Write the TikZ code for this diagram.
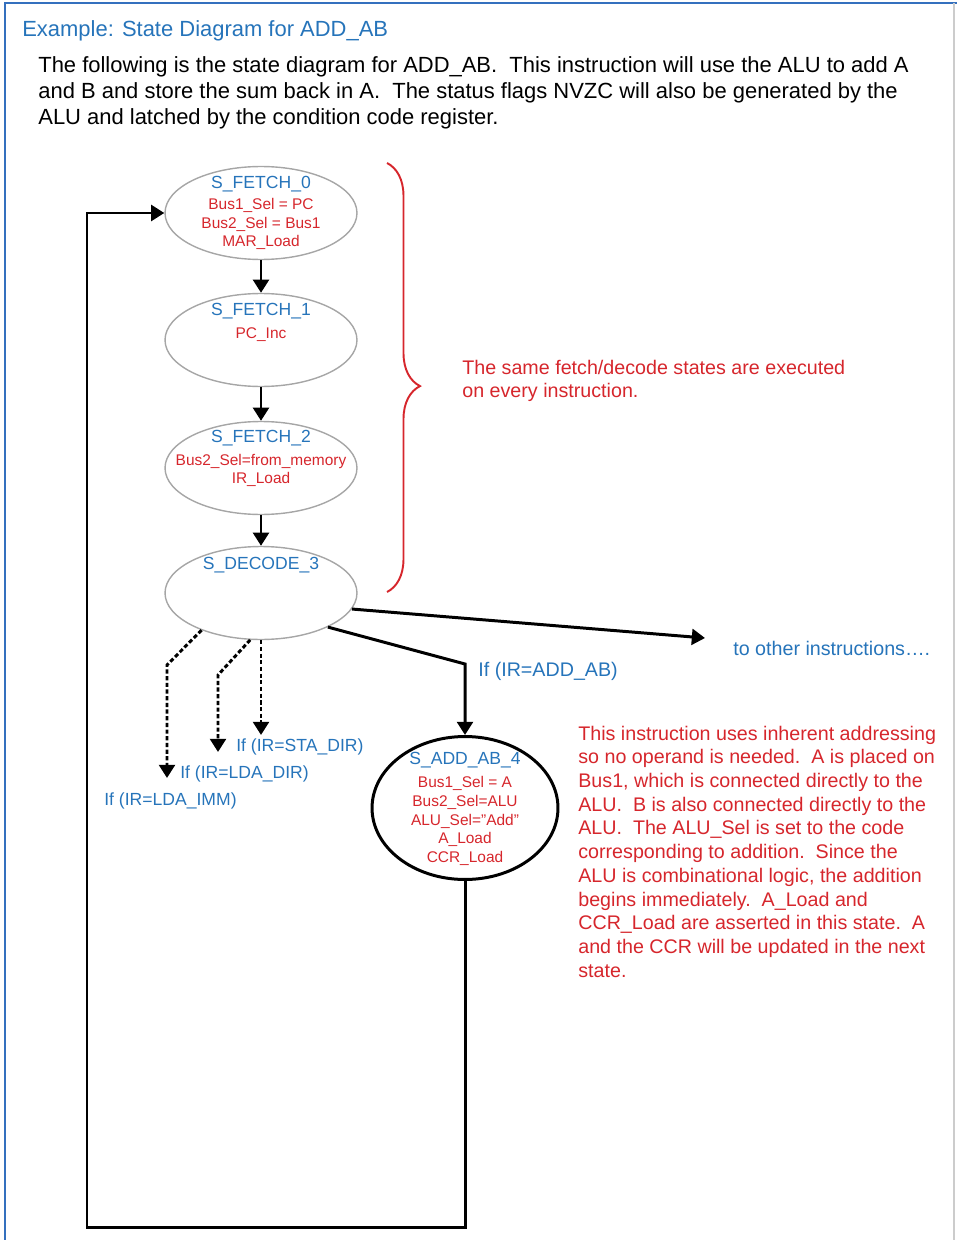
\documentclass[tikz,border=0pt]{standalone}
\usepackage{fontspec}
\setmainfont{Liberation Sans}
\usetikzlibrary{shapes.geometric,arrows.meta,decorations.pathreplacing}
\definecolor{titleblue}{RGB}{38,116,186}
\definecolor{frameblue}{RGB}{52,112,190}
\definecolor{notered}{RGB}{214,38,44}
\tikzset{
  state/.style={ellipse,draw=black!35,line width=0.8pt,minimum width=3.84cm,minimum height=1.86cm,inner sep=0pt},
  addstate/.style={ellipse,draw=black,line width=1.7pt,minimum width=3.72cm,minimum height=2.86cm,inner sep=0pt},
  stname/.style={titleblue,inner sep=0pt,font=\fontsize{10}{12}\selectfont},
  stsig/.style={notered,inner sep=0pt,align=center,font=\fontsize{8.8}{10.6}\selectfont},
  lbl/.style={titleblue,inner sep=0pt,font=\fontsize{11.2}{13.5}\selectfont},
  smlbl/.style={titleblue,inner sep=0pt,font=\fontsize{10}{12}\selectfont},
  notetext/.style={notered,inner sep=0pt,align=left,font=\fontsize{11.2}{13.5}\selectfont},
  arr/.style={line width=1.7pt,-{Triangle[length=7.5pt,width=9pt]}},
  dotarr/.style={arr,dash pattern=on 2.4pt off 1.4pt}
}
\begin{document}
\begin{tikzpicture}[x=0.02cm,y=-0.02cm]
\useasboundingbox (0,0) rectangle (957,1240);
% frame
\draw[frameblue,line width=1.5pt] (5,1240) -- (5,3) -- (957,3);
\draw[black!20,line width=0.6pt] (954,3) -- (954,1240);
% heading
\node[titleblue,inner sep=0pt,anchor=base west,font=\fontsize{12.5}{15}\selectfont] (title) at (22,37) {Example: State Diagram for ADD\_AB};
\node[inner sep=0pt,anchor=north west,align=left,font=\fontsize{12.5}{14.74}\selectfont] (intro) at (38,56.5) {The following is the state diagram for ADD\_AB.\ \ This instruction will use the ALU to add A\\and B and store the sum back in A.\ \ The status flags NVZC will also be generated by the\\ALU and latched by the condition code register.};
% fetch / decode states
\node[state] (f0) at (261,213) {};
\node[stname] (f0name) at (261,184) {S\_FETCH\_0};
\node[stsig] (f0sig) at (261,224) {Bus1\_Sel = PC\\Bus2\_Sel = Bus1\\MAR\_Load};
\node[state] (f1) at (261,340) {};
\node[stname] (f1name) at (261,311) {S\_FETCH\_1};
\node[stsig] (f1sig) at (261,335) {PC\_Inc};
\node[state] (f2) at (261,468) {};
\node[stname] (f2name) at (261,438) {S\_FETCH\_2};
\node[stsig] (f2sig) at (261,470.5) {Bus2\_Sel=from\_memory\\IR\_Load};
\node[state] (dec) at (261,593) {};
\node[stname] (decname) at (261,565) {S\_DECODE\_3};
\draw[arr] (f0) -- (f1);
\draw[arr] (f1) -- (f2);
\draw[arr] (f2) -- (dec);
% brace and note
\draw[notered,line width=1.1pt,decorate,decoration={brace,amplitude=0.66cm,aspect=0.52}] (387,163) -- (387,592);
\node[notetext,anchor=north west] (fetchnote) at (462,359.5) {The same fetch/decode states are executed\\on every instruction.};
% execute state
\node[addstate] (add) at (465,808) {};
\node[stname] (addname) at (465,760) {S\_ADD\_AB\_4};
\node[stsig] (addsig) at (465,821) {Bus1\_Sel = A\\Bus2\_Sel=ALU\\ALU\_Sel="Add"\\A\_Load\\CCR\_Load};
% branches out of decode
\coordinate (othend) at (705,638);
\draw[arr] (dec.-10.6) -- (othend);
\node[lbl,anchor=west] (othlbl) at (733,648) {to other instructions….};
\coordinate (addbend) at (465,664);
\draw[arr] (dec.-27) -- (addbend) -- (add);
\node[lbl,anchor=west] (addlbl) at (478,671) {If (IR=ADD\_AB)};
\coordinate (staend) at (261,735);
\draw[dotarr] (dec.south) -- (staend);
\coordinate (ldabend) at (218,675);
\coordinate (ldaend) at (218,752);
\draw[dotarr] (dec.257) -- (ldabend) -- (ldaend);
\coordinate (immbend) at (167,665);
\coordinate (immend) at (167,778);
\draw[dotarr] (dec.212) -- (immbend) -- (immend);
\node[smlbl,anchor=west] (stalbl) at (236,747) {If (IR=STA\_DIR)};
\node[smlbl,anchor=west] (ldalbl) at (180,774) {If (IR=LDA\_DIR)};
\node[smlbl,anchor=west] (immlbl) at (104,801) {If (IR=LDA\_IMM)};
% back to fetch
\coordinate (loopcorner) at (87,1227);
\draw[arr] (add.south) |- (loopcorner) |- (f0.west);
\node[notetext,anchor=north west] (addnote) at (578,725.5) {This instruction uses inherent addressing\\so no operand is needed.\ \ A is placed on\\Bus1, which is connected directly to the\\ALU.\ \ B is also connected directly to the\\ALU.\ \ The ALU\_Sel is set to the code\\corresponding to addition.\ \ Since the\\ALU is combinational logic, the addition\\begins immediately.\ \ A\_Load and\\CCR\_Load are asserted in this state.\ \ A\\and the CCR will be updated in the next\\state.};
\end{tikzpicture}
\end{document}
